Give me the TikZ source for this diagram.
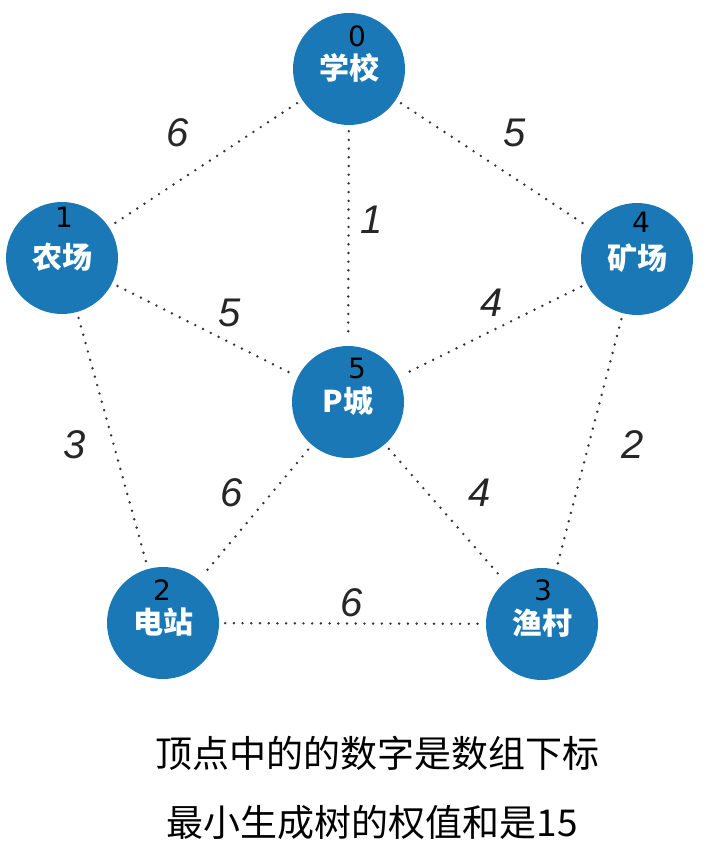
\documentclass[tikz,border=0pt]{standalone}
\usepackage{fontspec}
\setmainfont{Liberation Sans}
\newfontfamily\cjk{Noto Sans CJK SC}
\newfontfamily\numfont{DejaVu Sans}
\definecolor{nodeblue}{HTML}{1A78B6}
\definecolor{dotgray}{HTML}{333333}
\tikzset{
  vtx/.style={circle, fill=nodeblue, minimum size=112pt, inner sep=0pt,
    text=white, text height=25.5pt, text depth=3.6pt,
    font=\cjk\bfseries\fontsize{30}{30}\selectfont},
  idx/.style={inner sep=0pt, text height=20.4pt, text depth=0pt,
    font=\numfont\fontsize{28}{28}\selectfont},
  edge/.style={draw=dotgray, line width=2.7pt, line cap=round,
    dash pattern=on 0pt off 8.7pt, shorten <=6pt, shorten >=6pt},
  wlbl/.style={inner sep=0pt, font=\itshape\fontsize{40}{40}\selectfont, text=black!85},
  caption/.style={inner sep=0pt, font=\cjk\fontsize{37}{37}\selectfont}
}
\begin{document}
\begin{tikzpicture}[x=1pt,y=-1pt]
\useasboundingbox (0,0) rectangle (712,858);
% vertices
\node[vtx] (n0) at (349,69) {学校};
\node[vtx] (n1) at (62,258) {农场};
\node[vtx] (n4) at (637,259) {矿场};
\node[vtx] (n5) at (348,402) {P城};
\node[vtx] (n2) at (163,623) {电站};
\node[vtx] (n3) at (542,624) {渔村};
% indices
\node[idx] (i0) at (357,36) {0};
\node[idx] (i1) at (64,217) {1};
\node[idx] (i4) at (641,222) {4};
\node[idx] (i5) at (357,368) {5};
\node[idx] (i2) at (162,590) {2};
\node[idx] (i3) at (543,590) {3};
% edges
\draw[edge] (n0) -- (n1);
\draw[edge] (n0) -- (n4);
\draw[edge] (n0) -- (n5);
\draw[edge] (n1) -- (n5);
\draw[edge] (n4) -- (n5);
\draw[edge] (n1) -- (n2);
\draw[edge] (n4) -- (n3);
\draw[edge] (n5) -- (n2);
\draw[edge] (n5) -- (n3);
\draw[edge] (n2) -- (n3);
% weights
\node[wlbl] (w01) at (178,133) {6};
\node[wlbl] (w04) at (515,133) {5};
\node[wlbl] (w05) at (372,220) {1};
\node[wlbl] (w15) at (230,313) {5};
\node[wlbl] (w45) at (492,303) {4};
\node[wlbl] (w12) at (75,445) {3};
\node[wlbl] (w43) at (633,445) {2};
\node[wlbl] (w52) at (232,493) {6};
\node[wlbl] (w53) at (480,493) {4};
\node[wlbl] (w23) at (352,603) {6};
% caption
\node[caption] (c1) at (377,753) {顶点中的的数字是数组下标};
\node[caption] (c2) at (372,822) {最小生成树的权值和是15};
\end{tikzpicture}
\end{document}
